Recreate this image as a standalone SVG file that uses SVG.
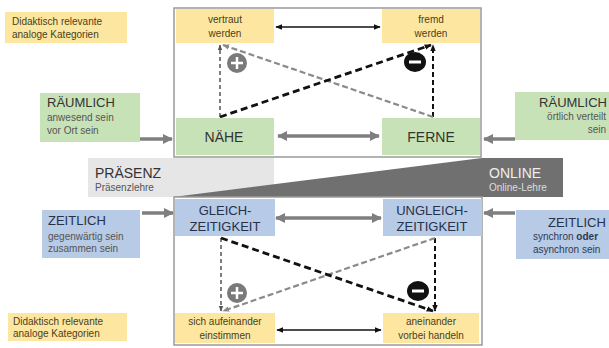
<svg xmlns="http://www.w3.org/2000/svg" width="609" height="348" viewBox="0 0 609 348">
<defs>
<style>
text{font-family:"Liberation Sans",Arial,sans-serif}
.y{fill:#fde7a0}
.g{fill:#c8e2b8}
.b{fill:#b7cae6}
.frame{fill:none;stroke:#9a9a9a;stroke-width:1.5}
.sm{font-size:10px;fill:#4a4020}
.big{font-size:14px;fill:#333}
.bl{font-size:13px;fill:#26324a}
.sub{font-size:10px;fill:#555}
.subb{font-size:10px;fill:#2e3a55}
.garr{stroke:#7f7f7f;stroke-width:3.5;fill:none}
.karr{stroke:#111;stroke-width:1.5;fill:none}
</style>
<marker id="gh" viewBox="0 0 10 10" refX="9" refY="5" markerWidth="10" markerHeight="10" markerUnits="userSpaceOnUse" orient="auto-start-reverse"><path d="M0,0L10,5L0,10z" fill="#7f7f7f"/></marker>
<marker id="kh" viewBox="0 0 10 10" refX="9" refY="5" markerWidth="7" markerHeight="7" markerUnits="userSpaceOnUse" orient="auto-start-reverse"><path d="M0,1L10,5L0,9z" fill="#111"/></marker>
<marker id="dh" viewBox="0 0 10 10" refX="9" refY="5" markerWidth="7" markerHeight="7" markerUnits="userSpaceOnUse" orient="auto"><path d="M0,1L10,5L0,9z" fill="#111"/></marker>
<marker id="dg" viewBox="0 0 10 10" refX="9" refY="5" markerWidth="7" markerHeight="7" markerUnits="userSpaceOnUse" orient="auto"><path d="M0,1L10,5L0,9z" fill="#8a8a8a"/></marker>
<marker id="dd" viewBox="0 0 10 10" refX="9" refY="5" markerWidth="6" markerHeight="6" markerUnits="userSpaceOnUse" orient="auto"><path d="M0,1L10,5L0,9z" fill="#555"/></marker>
</defs>
<rect width="609" height="348" fill="#fff"/>

<!-- middle band -->
<g id="band">
<rect x="88" y="158" width="186" height="39" fill="#e6e6e6"/>
<polygon points="173,197 482,158 563,158 563,197" fill="#707070"/>
<text x="95" y="178" style="font-size:14px;fill:#333">PRÄSENZ</text>
<text x="95" y="191" class="sub">Präsenzlehre</text>
<text x="489" y="178" style="font-size:14px;fill:#eee">ONLINE</text>
<text x="489" y="191" style="font-size:10px;fill:#ddd">Online-Lehre</text>
</g>

<!-- frames -->
<rect x="174" y="8" width="307" height="149" class="frame"/>
<rect x="174" y="197" width="308" height="148" class="frame"/>

<g id="connectors">
<!-- top box -->
<line x1="276" y1="27" x2="380" y2="27" class="karr" marker-start="url(#kh)" marker-end="url(#kh)"/>
<line x1="278" y1="136" x2="379" y2="136" class="garr" marker-start="url(#gh)" marker-end="url(#gh)"/>
<line x1="220" y1="117" x2="220" y2="45" stroke="#555" stroke-width="1.5" stroke-dasharray="4,3" marker-end="url(#dd)"/>
<line x1="433" y1="117" x2="433" y2="45" stroke="#111" stroke-width="2" stroke-dasharray="5,3" marker-end="url(#dh)"/>
<line x1="433" y1="117" x2="223" y2="45" stroke="#8a8a8a" stroke-width="2.2" stroke-dasharray="6,3" marker-end="url(#dg)"/>
<line x1="220" y1="117" x2="431" y2="45" stroke="#111" stroke-width="2.8" stroke-dasharray="7,4" marker-end="url(#dh)"/>
<!-- bottom box -->
<line x1="276" y1="218" x2="381" y2="218" class="garr" marker-start="url(#gh)" marker-end="url(#gh)"/>
<line x1="277" y1="330" x2="381" y2="330" class="karr" marker-start="url(#kh)" marker-end="url(#kh)"/>
<line x1="221" y1="238" x2="221" y2="311" stroke="#555" stroke-width="1.5" stroke-dasharray="4,3" marker-end="url(#dd)"/>
<line x1="435" y1="238" x2="435" y2="311" stroke="#111" stroke-width="2" stroke-dasharray="5,3" marker-end="url(#dh)"/>
<line x1="435" y1="238" x2="223" y2="311" stroke="#8a8a8a" stroke-width="2.2" stroke-dasharray="6,3" marker-end="url(#dg)"/>
<line x1="221" y1="238" x2="433" y2="311" stroke="#111" stroke-width="2.8" stroke-dasharray="7,4" marker-end="url(#dh)"/>
<!-- side arrows -->
<line x1="140" y1="139" x2="172" y2="139" class="garr" marker-end="url(#gh)"/>
<line x1="515" y1="139" x2="484" y2="139" class="garr" marker-end="url(#gh)"/>
<line x1="142" y1="213" x2="173" y2="213" class="garr" marker-end="url(#gh)"/>
<line x1="515" y1="213" x2="484" y2="213" class="garr" marker-end="url(#gh)"/>
</g>

<g id="plus-top"><circle cx="237" cy="63" r="10" fill="#7a7a7a"/><path d="M231,63h12M237,57v12" stroke="#fff" stroke-width="2.5"/></g>
<g id="minus-top"><ellipse cx="415" cy="62" rx="11" ry="10" fill="#111"/><path d="M409,62h12" stroke="#fff" stroke-width="3"/></g>
<g id="plus-bot"><circle cx="237" cy="293" r="10" fill="#7a7a7a"/><path d="M231,293h12M237,287v12" stroke="#fff" stroke-width="2.5"/></g>
<g id="minus-bot"><ellipse cx="418" cy="291" rx="11" ry="10" fill="#111"/><path d="M412,291h12" stroke="#fff" stroke-width="3"/></g>

<g id="label-top"><rect x="5" y="12" width="122" height="31" class="y"/>
<text x="12" y="25" class="sm">Didaktisch relevante</text>
<text x="12" y="38" class="sm">analoge Kategorien</text></g>

<g id="label-bottom"><rect x="8" y="313" width="119" height="28" class="y"/>
<text x="13" y="325" class="sm">Didaktisch relevante</text>
<text x="13" y="337" class="sm">analoge Kategorien</text></g>

<g id="vertraut"><rect x="176" y="9" width="98" height="34" class="y"/>
<text x="225" y="23" text-anchor="middle" class="sm">vertraut</text>
<text x="225" y="37" text-anchor="middle" class="sm">werden</text></g>

<g id="fremd"><rect x="382" y="9" width="98" height="34" class="y"/>
<text x="431" y="23" text-anchor="middle" class="sm">fremd</text>
<text x="431" y="37" text-anchor="middle" class="sm">werden</text></g>

<g id="naehe"><rect x="176" y="118" width="98" height="37" class="g"/>
<text x="224" y="142" text-anchor="middle" class="big">NÄHE</text></g>

<g id="ferne"><rect x="382" y="118" width="98" height="37" class="g"/>
<text x="431" y="142" text-anchor="middle" class="big">FERNE</text></g>

<g id="raeumlich-l"><rect x="40" y="93" width="100" height="49" class="g"/>
<text x="47" y="107" style="font-size:13px;fill:#333">RÄUMLICH</text>
<text x="47" y="121" class="sub">anwesend sein</text>
<text x="47" y="134" class="sub">vor Ort sein</text></g>

<g id="raeumlich-r"><rect x="515" y="92" width="94" height="48" class="g"/>
<text x="607" y="107" text-anchor="end" style="font-size:13px;fill:#333">RÄUMLICH</text>
<text x="606" y="120" text-anchor="end" class="sub">örtlich verteilt</text>
<text x="606" y="133" text-anchor="end" class="sub">sein</text></g>

<g id="gleich"><rect x="175" y="199" width="100" height="37" class="b"/>
<text x="225" y="215" text-anchor="middle" class="bl">GLEICH-</text>
<text x="225" y="231" text-anchor="middle" class="bl">ZEITIGKEIT</text></g>

<g id="ungleich"><rect x="383" y="199" width="99" height="37" class="b"/>
<text x="432" y="215" text-anchor="middle" class="bl">UNGLEICH-</text>
<text x="432" y="231" text-anchor="middle" class="bl">ZEITIGKEIT</text></g>

<g id="zeitlich-l"><rect x="42" y="210" width="98" height="48" class="b"/>
<text x="48" y="225" class="bl">ZEITLICH</text>
<text x="48" y="240" class="sub">gegenwärtig sein</text>
<text x="48" y="252" class="sub">zusammen sein</text></g>

<g id="zeitlich-r"><rect x="516" y="210" width="93" height="49" class="b"/>
<text x="548" y="227" class="bl">ZEITLICH</text>
<text x="533" y="240" class="subb">synchron <tspan font-weight="bold">oder</tspan></text>
<text x="533" y="253" class="subb">asynchron sein</text></g>

<g id="aufeinander"><rect x="175" y="313" width="100" height="30" class="y"/>
<text x="225" y="325" text-anchor="middle" class="sm">sich aufeinander</text>
<text x="225" y="339" text-anchor="middle" class="sm">einstimmen</text></g>

<g id="aneinander"><rect x="383" y="313" width="96" height="30" class="y"/>
<text x="431" y="325" text-anchor="middle" class="sm">aneinander</text>
<text x="431" y="339" text-anchor="middle" class="sm">vorbei handeln</text></g>
</svg>
